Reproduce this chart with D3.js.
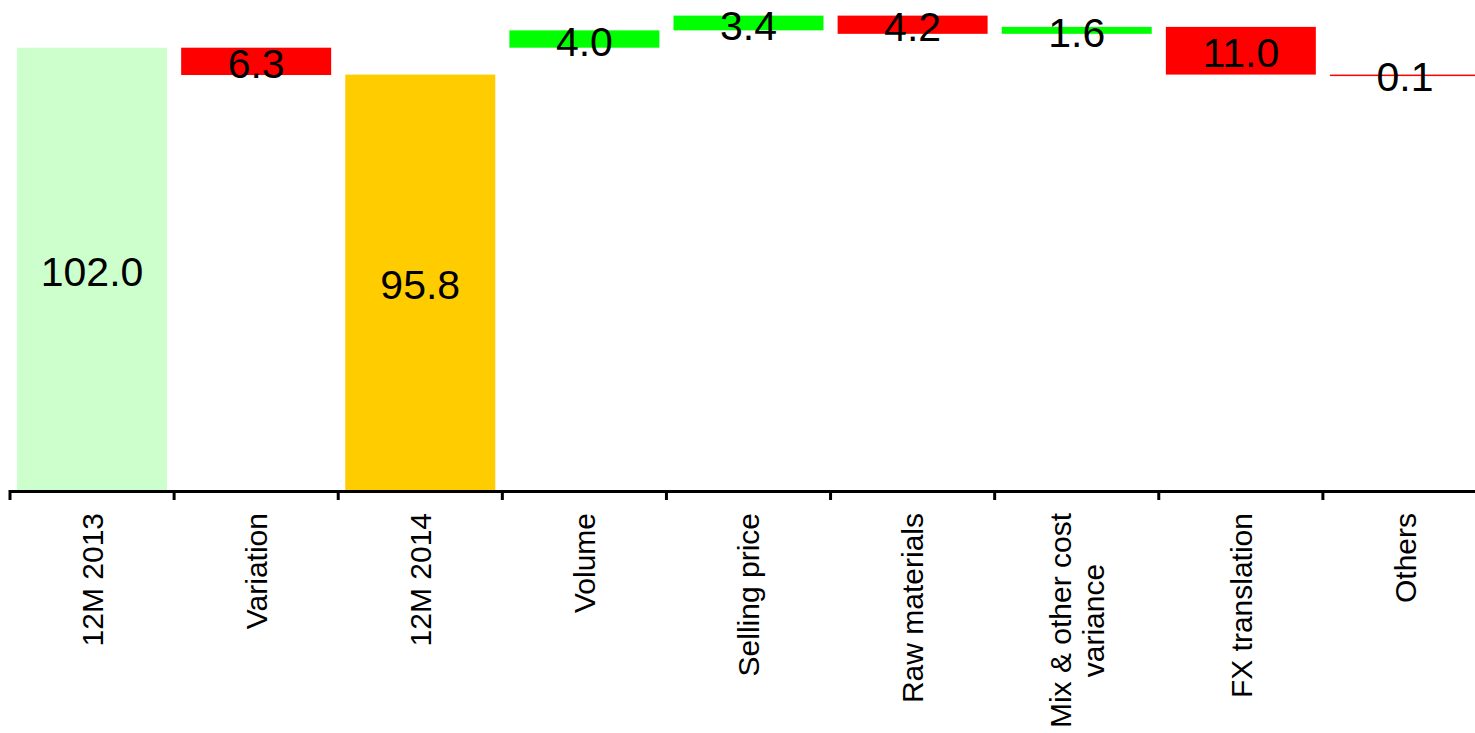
<!DOCTYPE html>
<html>
<head>
<meta charset="utf-8">
<script src="https://cdn.jsdelivr.net/npm/d3@7"></script>
<style>
  html, body { margin: 0; padding: 0; background: #fff; overflow: hidden; }
  svg { display: block; }
</style>
</head>
<body>
<svg id="chart" width="1475" height="733"></svg>
<script>
// ---- data ----
const categories = ["12M 2013", "Variation", "12M 2014", "Volume", "Selling price",
                    "Raw materials", "Mix & other cost\nvariance", "FX translation", "Others"];
const values     = [102.0, -6.3, 95.8, 4.0, 3.4, -4.2, 1.6, -11.0, -0.1];
const kinds      = ["total2013", "delta", "total2014", "delta", "delta", "delta", "delta", "delta", "delta"];
const valueLabels = ["102.0", "6.3", "95.8", "4.0", "3.4", "4.2", "1.6", "11.0", "0.1"];

// ---- colours ----
const colors = { total2013: "#CCFFCC", total2014: "#FFCC00", up: "#00FF00", down: "#FF0000" };

// build waterfall segments: variation bridges from 2013 to 2014, then
// the detailed bridge restarts from the 2013 total
const segs = [];
let running = 0;
values.forEach((v, i) => {
  const k = kinds[i];
  if (k.startsWith("total")) {
    segs.push({ cat: categories[i], y0: 0, y1: v, color: colors[k], label: valueLabels[i] });
    running = v;
    if (k === "total2014") running = values[0];
  } else {
    const start = running, end = running + v;
    segs.push({ cat: categories[i], y0: Math.min(start, end), y1: Math.max(start, end),
                color: v >= 0 ? colors.up : colors.down, label: valueLabels[i] });
    running = end;
  }
});

const svg = d3.select("#chart");
const x = d3.scaleBand().domain(categories).range([10, 1487]).padding(0);
const y = d3.scaleLinear().domain([0, 113]).range([490, 0]);
const barFrac = 0.914;
const bw = x.bandwidth() * barFrac;
const inset = (x.bandwidth() - bw) / 2;

// bars
svg.append("g").selectAll("rect").data(segs).join("rect")
  .attr("x", d => x(d.cat) + inset)
  .attr("width", bw)
  .attr("y", d => y(d.y1))
  .attr("height", d => Math.max(y(d.y0) - y(d.y1), 1.5))
  .attr("fill", d => d.color);

// value labels
const fontValue = 41;
svg.append("g").selectAll("text").data(segs).join("text")
  .attr("x", d => x(d.cat) + x.bandwidth() / 2)
  .attr("y", d => (y(d.y0) + y(d.y1)) / 2 + fontValue * 0.358 + 2)
  .attr("text-anchor", "middle")
  .attr("font-family", "'Liberation Sans Narrow', 'Liberation Sans', sans-serif")
  .attr("font-size", fontValue)
  .attr("fill", "#000")
  .text(d => d.label);

// axis line and ticks at category boundaries
const axisG = svg.append("g");
axisG.append("line")
  .attr("x1", x.range()[0]).attr("x2", x.range()[1])
  .attr("y1", y(0) + 1.5).attr("y2", y(0) + 1.5)
  .attr("stroke", "#000").attr("stroke-width", 3);
axisG.selectAll("line.tick").data(categories).join("line")
  .attr("class", "tick")
  .attr("x1", d => x(d)).attr("x2", d => x(d))
  .attr("y1", y(0)).attr("y2", y(0) + 10)
  .attr("stroke", "#000").attr("stroke-width", 3);

// rotated category labels
const fontAxis = 30;
const lineGap = 33;
const labelTop = 513;
categories.forEach(c => {
  const lines = c.split("\n");
  const cx = x(c) + x.bandwidth() / 2;
  const t = axisG.append("text")
    .attr("font-family", "'Liberation Sans Narrow', 'Liberation Sans', sans-serif")
    .attr("font-size", fontAxis)
    .attr("fill", "#000")
    .attr("text-anchor", "middle");
  const spans = lines.map(l => t.append("tspan").text(l));
  const maxLen = d3.max(spans, s => s.node().getComputedTextLength());
  const centerAlong = labelTop + maxLen / 2;
  const n = lines.length;
  spans.forEach((s, i) => {
    s.attr("x", 0).attr("y", fontAxis * 0.36 + (i - (n - 1) / 2) * lineGap);
  });
  t.attr("transform", `translate(${cx},${centerAlong}) rotate(-90)`);
});
</script>
</body>
</html>
